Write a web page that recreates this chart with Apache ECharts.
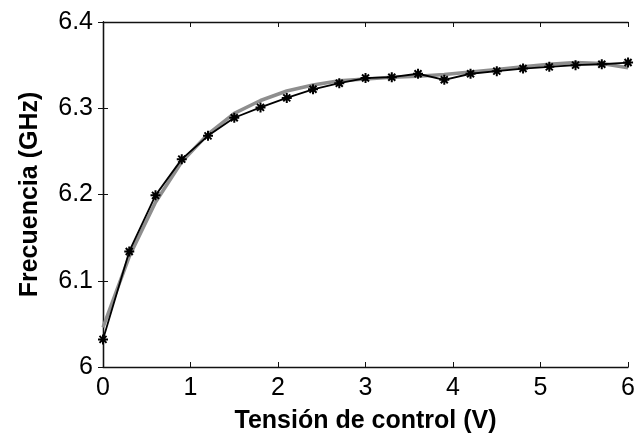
<!DOCTYPE html>
<html>
<head>
<meta charset="utf-8">
<script src="https://cdn.jsdelivr.net/npm/echarts@6/dist/echarts.min.js"></script>
<style>
  html, body { margin: 0; padding: 0; background: #fff; }
  #chart { width: 638px; height: 441px; }
</style>
</head>
<body>
<div id="chart"></div>
<script>
// Control voltage (V)
const voltage = [0, 0.3, 0.6, 0.9, 1.2, 1.5, 1.8, 2.1, 2.4, 2.7, 3.0,
                 3.3, 3.6, 3.9, 4.2, 4.5, 4.8, 5.1, 5.4, 5.7, 6.0];
// Measured frequency (GHz)
const measured = [6.032, 6.134, 6.199, 6.241, 6.268, 6.289, 6.301, 6.312, 6.322, 6.329, 6.335,
                  6.336, 6.340, 6.333, 6.340, 6.343, 6.346, 6.348, 6.350, 6.351, 6.353];
// Fitted frequency (GHz)
const fitted = [6.046, 6.128, 6.191, 6.238, 6.270, 6.294, 6.309, 6.320, 6.327, 6.332, 6.334,
                6.336, 6.337, 6.339, 6.342, 6.345, 6.348, 6.351, 6.353, 6.352, 6.347];

const xTicks = [0, 1, 2, 3, 4, 5, 6];
const yTicks = [6, 6.1, 6.2, 6.3, 6.4];

const pairs = (xs, ys) => xs.map((x, i) => [x, ys[i]]);

const font = 'Liberation Sans, Arial, sans-serif';
const axisLine = { show: true, lineStyle: { color: '#111', width: 1.3 } };
const tick = { show: true, inside: true, length: 5, lineStyle: { color: '#111', width: 1 } };

const chart = echarts.init(document.getElementById('chart'), null, { renderer: 'canvas' });
chart.setOption({
  animation: false,
  backgroundColor: '#fff',
  grid: { left: 103, right: 7, top: 22, bottom: 74, containLabel: false },
  xAxis: [{
    type: 'value', min: xTicks[0], max: xTicks[xTicks.length - 1], interval: 1,
    position: 'bottom',
    name: 'Tensión de control (V)', nameLocation: 'middle', nameGap: 42,
    nameTextStyle: { fontFamily: font, fontSize: 25, fontWeight: 'bold', color: '#000' },
    axisLine, axisTick: tick, splitLine: { show: false },
    axisLabel: { fontFamily: font, fontSize: 25, color: '#000', margin: 9 }
  }, {
    type: 'value', min: xTicks[0], max: xTicks[xTicks.length - 1], interval: 1,
    position: 'top', axisLine, axisTick: tick, splitLine: { show: false },
    axisLabel: { show: false }
  }],
  yAxis: [{
    type: 'value', min: yTicks[0], max: yTicks[yTicks.length - 1], interval: 0.1,
    position: 'left',
    name: 'Frecuencia (GHz)', nameLocation: 'middle', nameGap: 60,
    nameTextStyle: { fontFamily: font, fontSize: 25, fontWeight: 'bold', color: '#000' },
    axisLine, axisTick: tick, splitLine: { show: false },
    axisLabel: { fontFamily: font, fontSize: 25, color: '#000', margin: 10,
                 formatter: v => String(Math.round(v * 10) / 10) }
  }, {
    type: 'value', min: yTicks[0], max: yTicks[yTicks.length - 1], interval: 0.1,
    position: 'right', axisLine, axisTick: tick, splitLine: { show: false },
    axisLabel: { show: false }
  }],
  series: [{
    name: 'fit', type: 'line', data: pairs(voltage, fitted),
    showSymbol: false, clip: false,
    lineStyle: { color: '#8e8e8e', width: 3.5 }
  }, {
    name: 'measured', type: 'line', data: pairs(voltage, measured),
    clip: false,
    symbol: 'path://M5,0L5,10M0,5L10,5M1.5,1.5L8.5,8.5M1.5,8.5L8.5,1.5',
    symbolSize: 10,
    itemStyle: { color: '#000', borderColor: '#000', borderWidth: 2 },
    lineStyle: { color: '#000', width: 1.8 }
  }]
});
</script>
</body>
</html>
